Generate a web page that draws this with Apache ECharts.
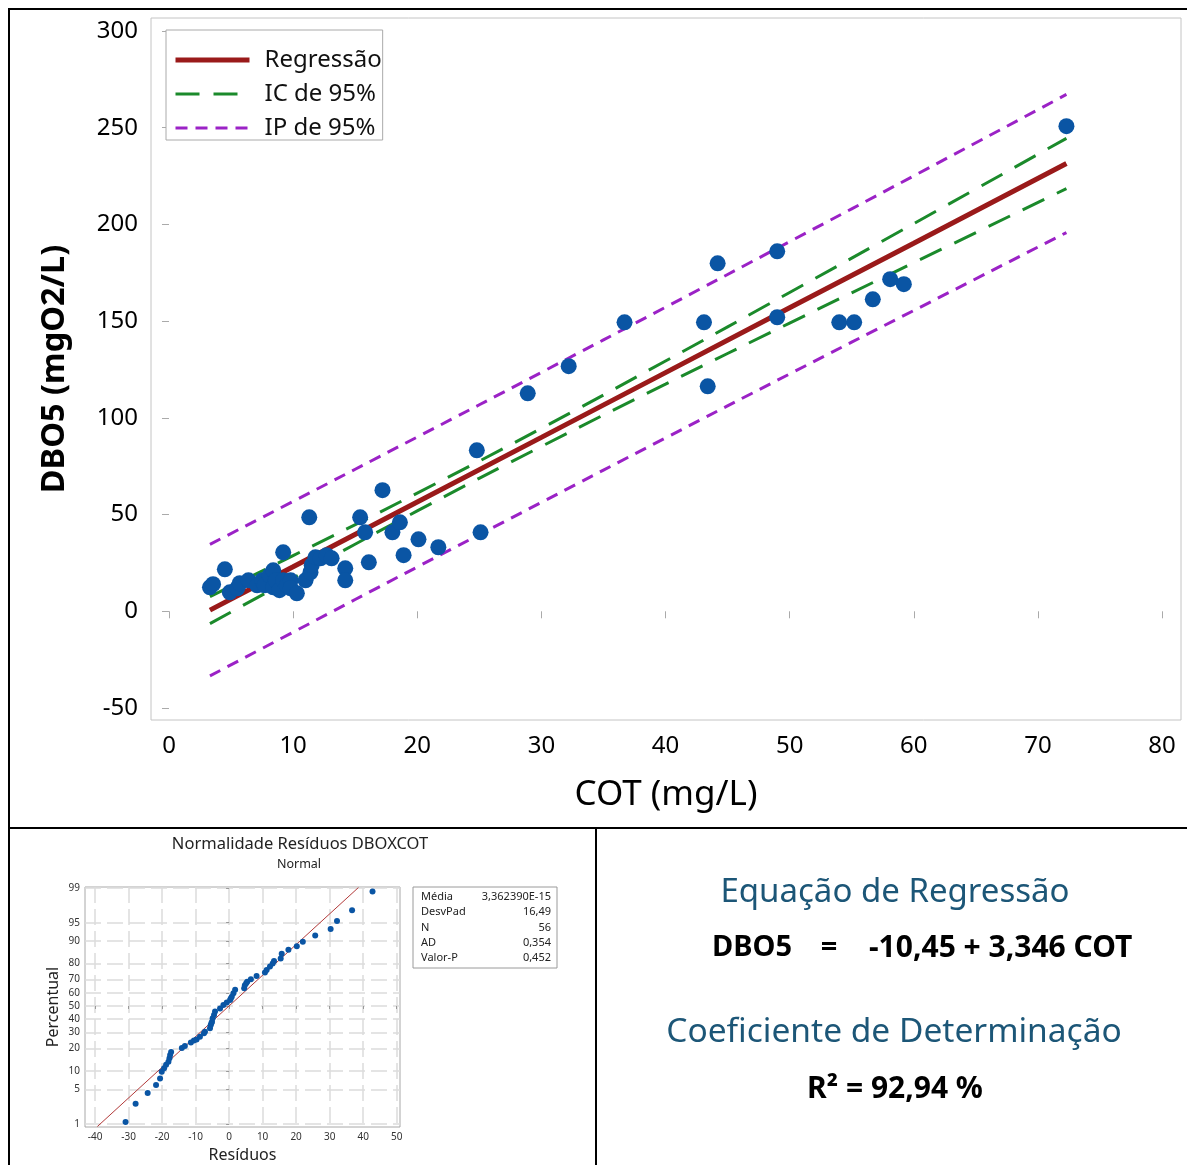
<!DOCTYPE html>
<html>
<head>
<meta charset="utf-8">
<title>DBO5 x COT</title>
<script src="https://cdn.jsdelivr.net/npm/echarts@6/dist/echarts.min.js"></script>
<style>
html, body { margin: 0; padding: 0; background: #fff; }
#chart { width: 1187px; height: 1165px; }
</style>
</head>
<body>
<div id="chart"></div>
<script>
// pontos observados (COT x DBO5)
var cotObs = [3.3, 3.55, 4.5, 4.9, 5.5, 5.7, 6.4, 7.1, 7.5, 7.7, 8.1, 8.4, 8.4, 8.6, 8.9, 9.2, 9.2, 9.5, 9.8, 9.8,
    10.3, 11.0, 11.3, 11.4, 11.5, 11.8, 12.2, 12.7, 13.1, 14.2, 14.2, 15.4, 15.8, 16.1, 17.2, 18.0, 18.6, 18.9, 20.1, 21.7,
    24.8, 25.1, 28.9, 32.2, 36.7, 43.1, 43.4, 44.2, 49.0, 49.0, 54.0, 55.2, 56.7, 58.1, 59.2, 72.3];
var dboObs = [12.4, 14.0, 21.7, 9.8, 11.9, 14.5, 16.0, 13.4, 16.0, 13.4, 18.6, 21.2, 12.4, 16.0, 10.9, 30.5, 16.0, 13.4, 16.0, 11.9,
    9.3, 16.0, 48.6, 20.2, 23.8, 27.9, 27.4, 29.0, 27.4, 22.2, 16.0, 48.6, 40.8, 25.3, 62.6, 40.8, 46.0, 29.0, 37.2, 33.1,
    83.2, 40.8, 112.7, 126.7, 149.4, 149.4, 116.3, 179.9, 186.1, 152.0, 149.4, 149.4, 161.3, 171.7, 169.1, 250.8];

// reta ajustada e faixas de 95%
var cotFit = [3.3, 10, 20, 30, 40, 50, 60, 72.3];
var fitVal = [0.6, 23.0, 56.5, 89.9, 123.4, 156.9, 190.3, 231.5];
var icSup = [7.6, 28.8, 61.1, 94.6, 129.4, 164.8, 200.4, 244.5];
var icInf = [-6.4, 17.2, 51.9, 85.2, 117.4, 149.0, 180.2, 218.5];
var ipSup = [34.6, 56.8, 90.1, 123.5, 157.2, 191.1, 225.1, 267.2];
var ipInf = [-33.4, -10.8, 22.9, 56.3, 89.6, 122.7, 155.5, 195.8];

var xTicksMain = [0, 10, 20, 30, 40, 50, 60, 70, 80];
var yTicksMain = [-50, 0, 50, 100, 150, 200, 250, 300];

// grafico de probabilidade normal dos residuos
var residuos = [-30.9, -27.9, -24.3, -21.8, -20.6, -20.1, -19.4, -18.8, -18.1, -17.8, -17.6, -17.3, -14.1, -13.2, -11.4, -10.5,
    -9.7, -8.7, -7.5, -7.2, -5.7, -5.5, -5.3, -5.1, -4.9, -4.5, -4.2, -2.7, -1.7, -0.7, 0.3, 0.5, 0.8, 1.3, 1.8, 4.5, 4.7, 5.1,
    5.4, 6.5, 8.2, 10.7, 11.2, 12.2, 13.0, 13.4, 15.4, 15.7, 17.7, 20.2, 22.0, 25.7, 30.3, 32.2, 36.7, 42.8];
var escoreZ = [-2.29, -1.93, -1.72, -1.56, -1.43, -1.30, -1.23, -1.16, -1.10, -1.03, -0.97, -0.91, -0.83, -0.79, -0.72, -0.68,
    -0.66, -0.61, -0.54, -0.51, -0.44, -0.38, -0.34, -0.31, -0.24, -0.18, -0.11, -0.05, 0.02, 0.07, 0.12, 0.15, 0.18, 0.25, 0.32,
    0.35, 0.41, 0.45, 0.48, 0.53, 0.59, 0.66, 0.71, 0.78, 0.84, 0.89, 0.94, 1.03, 1.11, 1.18, 1.27, 1.39, 1.52, 1.68, 1.89, 2.26];
var refRes = [-39.3, 38.6];
var refZ = [-2.38, 2.34];
var resTicks = [-40, -30, -20, -10, 0, 10, 20, 30, 40, 50];
var percentTicks = [1, 5, 10, 20, 30, 40, 50, 60, 70, 80, 90, 95, 99];
var percentZ = [-2.326, -1.645, -1.282, -0.842, -0.524, -0.253, 0, 0.253, 0.524, 0.842, 1.282, 1.645, 2.326];

var statLabels = ['Média', 'DesvPad', 'N', 'AD', 'Valor-P'];
var statValues = ['3,362390E-15', '16,49', '56', '0,354', '0,452'];

var FONT = '"Noto Sans", "Open Sans", sans-serif';

function zip(xs, ys) {
    var out = [];
    for (var i = 0; i < xs.length; i++)
        out.push([xs[i], ys[i]]);
    return out;
}

// textos soltos e moldura
var graphics = [
    { type: 'line', shape: { x1: 8, y1: 9, x2: 1187, y2: 9 }, style: { stroke: '#000', lineWidth: 2 } },
    { type: 'line', shape: { x1: 9, y1: 8, x2: 9, y2: 1165 }, style: { stroke: '#000', lineWidth: 2 } },
    { type: 'line', shape: { x1: 8, y1: 828, x2: 1187, y2: 828 }, style: { stroke: '#000', lineWidth: 2 } },
    { type: 'line', shape: { x1: 596, y1: 828, x2: 596, y2: 1165 }, style: { stroke: '#000', lineWidth: 2 } },
    { type: 'text', x: 300, y: 844, style: { text: 'Normalidade Resíduos DBOXCOT', font: '16.5px ' + FONT, fill: '#222', align: 'center', verticalAlign: 'middle' } },
    { type: 'text', x: 299, y: 864, style: { text: 'Normal', font: '12.5px ' + FONT, fill: '#222', align: 'center', verticalAlign: 'middle' } },
    { type: 'rect', shape: { x: 413, y: 887, width: 144, height: 81 }, style: { fill: '#fff', stroke: '#9a9a9a', lineWidth: 1 } },
    { type: 'text', x: 895, y: 893, style: { text: 'Equação de Regressão', font: '33px ' + FONT, fill: '#1c5677', align: 'center', verticalAlign: 'middle' } },
    { type: 'text', x: 712, y: 948, style: { text: 'DBO5', font: 'bold 29px ' + FONT, fill: '#000', align: 'left', verticalAlign: 'middle' } },
    { type: 'text', x: 829, y: 948, style: { text: '=', font: 'bold 29px ' + FONT, fill: '#000', align: 'center', verticalAlign: 'middle' } },
    { type: 'text', x: 869, y: 948, style: { text: '-10,45 + 3,346 COT', font: 'bold 30px ' + FONT, fill: '#000', align: 'left', verticalAlign: 'middle' } },
    { type: 'text', x: 894, y: 1032, style: { text: 'Coeficiente de Determinação', font: '33.5px ' + FONT, fill: '#1c5677', align: 'center', verticalAlign: 'middle' } },
    { type: 'text', x: 895, y: 1089, style: { text: 'R² = 92,94 %', font: 'bold 30px ' + FONT, fill: '#000', align: 'center', verticalAlign: 'middle' } }
];
for (var s = 0; s < statLabels.length; s++) {
    graphics.push({ type: 'text', x: 421, y: 897 + s * 15.3, style: { text: statLabels[s], font: '11px ' + FONT, fill: '#222', align: 'left', verticalAlign: 'middle' } });
    graphics.push({ type: 'text', x: 551, y: 897 + s * 15.3, style: { text: statValues[s], font: '11px ' + FONT, fill: '#222', align: 'right', verticalAlign: 'middle' } });
}

var chart = echarts.init(document.getElementById('chart'));
var option = {
    animation: false,
    backgroundColor: '#fff',
    textStyle: { fontFamily: FONT },
    graphic: graphics,
    legend: {
        data: ['Regressão', 'IC de 95%', 'IP de 95%'],
        orient: 'vertical',
        left: 166,
        top: 30,
        itemWidth: 74,
        itemHeight: 20,
        itemGap: 10,
        padding: [18, 1, 0, 7],
        backgroundColor: '#fff',
        borderColor: '#aaa',
        borderWidth: 1,
        borderRadius: 0,
        itemStyle: { opacity: 0 },
        lineStyle: { width: 'inherit' },
        textStyle: { fontSize: 24, color: '#111', fontFamily: FONT, padding: [0, 0, 0, 10] }
    },
    grid: [
        { left: 151, top: 18, width: 1030, height: 702, show: true, borderColor: '#c4c4c4', borderWidth: 1, backgroundColor: '#fff' },
        { left: 85, top: 887, width: 315, height: 240, show: true, borderColor: '#a8a8a8', borderWidth: 1, backgroundColor: '#fff' }
    ],
    xAxis: [
        {
            type: 'value', gridIndex: 0, min: -1.45, max: 81.53,
            name: 'COT (mg/L)', nameLocation: 'middle', nameGap: 58,
            nameTextStyle: { fontSize: 35, color: '#000' },
            axisLine: { show: false },
            axisTick: { show: true, length: 7, customValues: xTicksMain, lineStyle: { color: '#aaa' } },
            axisLabel: { customValues: xTicksMain, fontSize: 24, color: '#000', margin: 14 },
            splitLine: { show: false }
        },
        {
            type: 'value', gridIndex: 1, min: -43, max: 51,
            name: 'Resíduos', nameLocation: 'middle', nameGap: 20,
            nameTextStyle: { fontSize: 16, color: '#222' },
            axisLine: { show: false },
            axisTick: { show: true, length: 3, customValues: resTicks, lineStyle: { color: '#999' } },
            axisLabel: { customValues: resTicks, fontSize: 10, color: '#333', margin: 5 },
            splitLine: { show: true, lineStyle: { color: '#dcdcdc', width: 1.5, type: [16, 6] } }
        }
    ],
    yAxis: [
        {
            type: 'value', gridIndex: 0, min: -56.2, max: 306.72,
            name: 'DBO5 (mgO2/L)', nameLocation: 'middle', nameGap: 80, nameRotate: 90,
            nameTextStyle: { fontSize: 32.5, fontWeight: 'bold', color: '#000' },
            axisLine: { show: false },
            axisTick: { show: true, length: 7, customValues: yTicksMain, lineStyle: { color: '#aaa' } },
            axisLabel: { customValues: yTicksMain, fontSize: 24, color: '#000', margin: 13 },
            splitLine: { show: false }
        },
        {
            type: 'value', gridIndex: 1, min: -2.39, max: 2.35,
            name: 'Percentual', nameLocation: 'middle', nameGap: 24, nameRotate: 90,
            nameTextStyle: { fontSize: 16, color: '#222' },
            axisLine: { show: false },
            axisTick: { show: true, length: 3, customValues: percentZ, lineStyle: { color: '#999' } },
            axisLabel: {
                customValues: percentZ, fontSize: 10, color: '#333', margin: 5,
                formatter: function (v) {
                    for (var i = 0; i < percentZ.length; i++) {
                        if (Math.abs(percentZ[i] - v) < 0.001)
                            return String(percentTicks[i]);
                    }
                    return '';
                }
            },
            splitLine: { show: true, lineStyle: { color: '#dcdcdc', width: 1.5, type: [16, 6] } }
        }
    ],
    series: [
        {
            name: 'IP de 95%', type: 'line', xAxisIndex: 0, yAxisIndex: 0, smooth: true, symbol: 'none',
            lineStyle: { color: '#9b22c6', width: 3, type: [12, 8] }, itemStyle: { color: '#9b22c6' },
            data: zip(cotFit, ipSup), z: 2
        },
        {
            name: 'IP de 95%', type: 'line', xAxisIndex: 0, yAxisIndex: 0, smooth: true, symbol: 'none',
            lineStyle: { color: '#9b22c6', width: 3, type: [12, 8] }, itemStyle: { color: '#9b22c6' },
            data: zip(cotFit, ipInf), z: 2
        },
        {
            name: 'IC de 95%', type: 'line', xAxisIndex: 0, yAxisIndex: 0, smooth: true, symbol: 'none',
            lineStyle: { color: '#1b8a2b', width: 3, type: [24, 14] }, itemStyle: { color: '#1b8a2b' },
            data: zip(cotFit, icSup), z: 3
        },
        {
            name: 'IC de 95%', type: 'line', xAxisIndex: 0, yAxisIndex: 0, smooth: true, symbol: 'none',
            lineStyle: { color: '#1b8a2b', width: 3, type: [24, 14] }, itemStyle: { color: '#1b8a2b' },
            data: zip(cotFit, icInf), z: 3
        },
        {
            name: 'Regressão', type: 'line', xAxisIndex: 0, yAxisIndex: 0, symbol: 'none',
            lineStyle: { color: '#9a1a1a', width: 5 }, itemStyle: { color: '#9a1a1a' },
            data: zip(cotFit, fitVal), z: 4
        },
        {
            name: 'Observado', type: 'scatter', xAxisIndex: 0, yAxisIndex: 0, symbolSize: 16,
            itemStyle: { color: '#0a55a4', opacity: 1 },
            data: zip(cotObs, dboObs), z: 5
        },
        {
            name: 'Referência', type: 'line', xAxisIndex: 1, yAxisIndex: 1, symbol: 'none',
            lineStyle: { color: '#b23a3a', width: 1 },
            data: zip(refRes, refZ), z: 4
        },
        {
            name: 'Resíduos', type: 'scatter', xAxisIndex: 1, yAxisIndex: 1, symbolSize: 6,
            itemStyle: { color: '#0a55a4', opacity: 1 },
            data: zip(residuos, escoreZ), z: 5
        }
    ]
};
chart.setOption(option);
</script>
</body>
</html>
